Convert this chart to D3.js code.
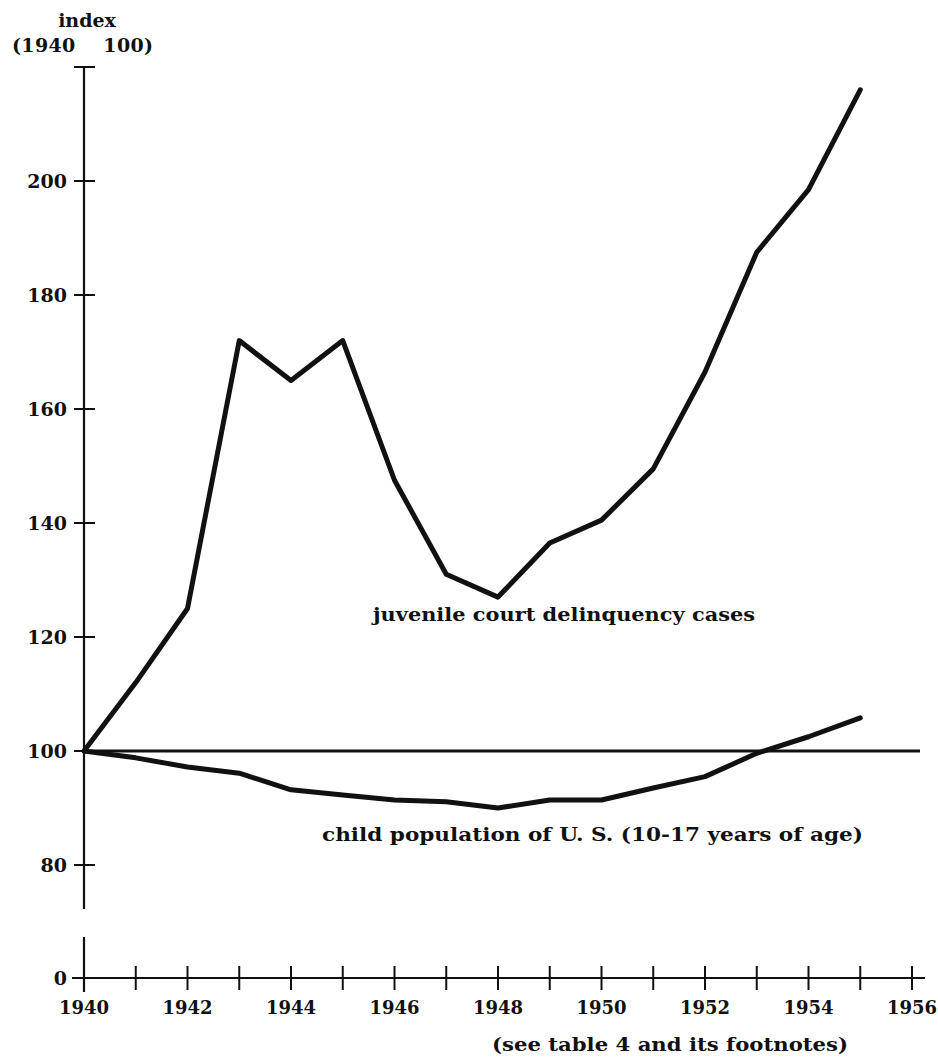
<!DOCTYPE html>
<html>
<head>
<meta charset="utf-8">
<script src="https://cdn.jsdelivr.net/npm/d3@7"></script>
<style>
  body { margin: 0; background: #fff; }
  text { font-family: "DejaVu Serif", serif; font-weight: bold; fill: #111; }
</style>
</head>
<body>
<div id="chart"></div>
<script>
// years on the x axis
const years = d3.range(1940, 1956);
// index values, 1940 = 100
const delinquency = [100, 112, 125, 172, 165, 172, 147.5, 131, 127, 136.5, 140.5, 149.5, 166.5, 187.5, 198.5, 216];
const childPop = [100, 98.8, 97.2, 96.1, 93.2, 92.3, 91.4, 91.1, 90, 91.4, 91.4, 93.5, 95.5, 99.6, 102.5, 105.8];
const yTicks = [80, 100, 120, 140, 160, 180, 200, 220];
const yTickLabels = ["80", "100", "120", "140", "160", "180", "200", ""];
const xTicks = d3.range(1940, 1957);
const xTickLabels = d3.range(1940, 1957, 2);

const width = 938, height = 1057;
const svg = d3.select("#chart").append("svg")
    .attr("width", width)
    .attr("height", height);

// Scales
const x = d3.scaleLinear().domain([1940, 1956]).range([84, 912]);
const y = d3.scaleLinear().domain([80, 200]).range([865, 181]);
const zeroY = 978;

const ink = "#111";

// Upper y axis segment (80..220 plus a little below)
svg.append("line")
    .attr("x1", x(1940)).attr("x2", x(1940))
    .attr("y1", y(220)).attr("y2", y(80) + 44)
    .attr("stroke", ink).attr("stroke-width", 2.2);

// lower y segment (around zero)
svg.append("line")
    .attr("x1", x(1940)).attr("x2", x(1940))
    .attr("y1", zeroY - 41).attr("y2", zeroY + 14)
    .attr("stroke", ink).attr("stroke-width", 2.2);

// y ticks
svg.selectAll(".ytick")
    .data(yTicks)
    .join("line")
    .attr("class", "ytick")
    .attr("x1", x(1940) - 10).attr("x2", x(1940) + 11)
    .attr("y1", d => y(d)).attr("y2", d => y(d))
    .attr("stroke", ink).attr("stroke-width", 2);

svg.selectAll(".ylabel")
    .data(yTicks.filter((d, i) => yTickLabels[i] !== ""))
    .join("text")
    .attr("class", "ylabel")
    .attr("x", 67)
    .attr("y", d => y(d) + 7)
    .attr("text-anchor", "end")
    .style("font-size", "19px")
    .text(d => yTickLabels[yTicks.indexOf(d)]);

// zero tick + label
svg.append("line")
    .attr("x1", x(1940) - 12).attr("x2", x(1940))
    .attr("y1", zeroY).attr("y2", zeroY)
    .attr("stroke", ink).attr("stroke-width", 2);
svg.append("text")
    .attr("x", 67).attr("y", zeroY + 7)
    .attr("text-anchor", "end")
    .style("font-size", "19px")
    .text("0");

// x axis
svg.append("line")
    .attr("x1", x(1940)).attr("x2", x(1956) + 13)
    .attr("y1", zeroY).attr("y2", zeroY)
    .attr("stroke", ink).attr("stroke-width", 2.2);

svg.selectAll(".xtick")
    .data(xTicks.slice(1))
    .join("line")
    .attr("class", "xtick")
    .attr("x1", d => x(d)).attr("x2", d => x(d))
    .attr("y1", zeroY - 12).attr("y2", zeroY + 12)
    .attr("stroke", ink).attr("stroke-width", 2);

svg.selectAll(".xlabel")
    .data(xTickLabels)
    .join("text")
    .attr("class", "xlabel")
    .attr("x", d => x(d))
    .attr("y", zeroY + 36)
    .attr("text-anchor", "middle")
    .style("font-size", "18px")
    .text(d => d);

// y axis title
svg.append("text")
    .attr("x", 87).attr("y", 27)
    .attr("text-anchor", "middle")
    .style("font-size", "19px")
    .text("index");
svg.append("text")
    .attr("x", 12).attr("y", 52)
    .attr("textLength", 141)
    .attr("lengthAdjust", "spacing")
    .style("font-size", "19px")
    .attr("xml:space", "preserve")
    .text("(1940    100)");

// base line at 100
svg.append("line")
    .attr("x1", x(1940)).attr("x2", x(1956) + 8)
    .attr("y1", y(100)).attr("y2", y(100))
    .attr("stroke", ink).attr("stroke-width", 3);

// data lines
const line = d3.line()
    .x((d, i) => x(years[i]))
    .y(d => y(d));

svg.append("path")
    .datum(delinquency)
    .attr("d", line)
    .attr("fill", "none")
    .attr("stroke", ink)
    .attr("stroke-width", 5)
    .attr("stroke-linejoin", "round")
    .attr("stroke-linecap", "round");

svg.append("path")
    .datum(childPop)
    .attr("d", line)
    .attr("fill", "none")
    .attr("stroke", ink)
    .attr("stroke-width", 5)
    .attr("stroke-linejoin", "round")
    .attr("stroke-linecap", "round");

// line labels
svg.append("text")
    .attr("x", 373).attr("y", 621)
    .attr("textLength", 382)
    .attr("lengthAdjust", "spacingAndGlyphs")
    .style("font-size", "19px")
    .text("juvenile court delinquency cases");

svg.append("text")
    .attr("x", 322).attr("y", 841)
    .attr("textLength", 541)
    .attr("lengthAdjust", "spacingAndGlyphs")
    .style("font-size", "19px")
    .text("child population of U. S. (10-17 years of age)");

// footnote
svg.append("text")
    .attr("x", 492).attr("y", 1051)
    .attr("textLength", 356)
    .attr("lengthAdjust", "spacingAndGlyphs")
    .style("font-size", "19px")
    .text("(see table 4 and its footnotes)");
</script>
</body>
</html>
